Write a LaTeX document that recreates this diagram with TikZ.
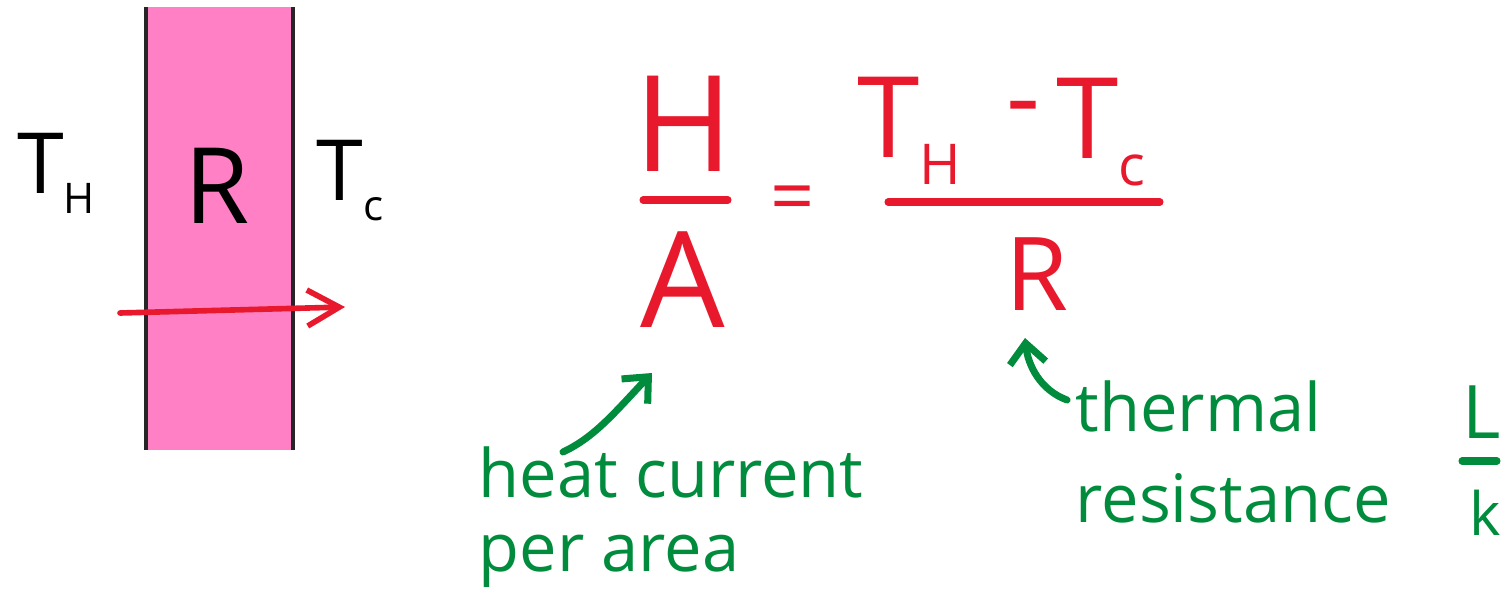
\documentclass[tikz,border=0pt]{standalone}
\usepackage{fontspec}
\setmainfont{Open Sans}
\usepackage{graphicx}
\usetikzlibrary{arrows.meta}
\definecolor{wallpink}{HTML}{FF80C4}
\definecolor{eqred}{HTML}{E8192C}
\definecolor{notegreen}{HTML}{008C3C}
\newcommand{\lowsub}[1]{\raisebox{-0.24em}{\scalebox{0.5}{#1}}}

\begin{document}
\begin{tikzpicture}[
    x=0.01cm, y=-0.01cm,
    sym/.style={inner sep=0pt, anchor=base},
    temp/.style={sym, font=\fontsize{24}{24}\selectfont},
    eqbig/.style={sym, text=eqred, font=\fontsize{38}{38}\selectfont},
    eqmid/.style={sym, text=eqred, font=\fontsize{32}{32}\selectfont},
    note/.style={inner sep=0pt, anchor=north west, align=left, text=notegreen},
    wallside/.style={draw=black!85, line width=1.2pt},
    bar/.style={line width=2pt, line cap=round},
    flow/.style={-{Straight Barb[length=3.2mm, width=3.6mm]}, eqred, line width=1.6pt, line cap=round},
    notearr/.style={-{Straight Barb[length=2mm, width=3.6mm]}, notegreen, line width=2pt, line cap=round}
]
    \useasboundingbox (0,0) rectangle (1511,600);

    % wall with heat flowing through
    \fill[wallpink] (146,7) rectangle (293,450);
    \draw[wallside] (146,7) -- (146,450);
    \draw[wallside] (293,7) -- (293,450);

    \node[temp] (hotside) at (56,193) {T\lowsub{H}};
    \node[sym, font=\fontsize{30}{30}\selectfont] (wallR) at (217,223) {R};
    \node[temp] (coldside) at (350,200) {T\lowsub{c}};

    \coordinate (flowin) at (120,313);
    \coordinate (flowout) at (345,307);
    \draw[flow] (flowin) -- (flowout);

    % H/A = (TH - Tc)/R
    \node[eqbig] (Hnum) at (684,172) {H};
    \draw[bar, eqred] (643,200) -- (728,200);
    \node[eqbig] (Aden) at (683,327) {A};
    \node[inner sep=0pt, text=eqred, font=\fontsize{22}{22}\selectfont] (equals) at (793,205) {=};

    \node[eqmid] (THnum) at (909,157) {T\lowsub{H}};
    \node[inner sep=0pt, text=eqred, font=\fontsize{30}{30}\selectfont] (minus) at (1023,117) {-};
    \node[eqmid] (TCnum) at (1101,158) {T\lowsub{c}};
    \draw[bar, eqred] (888,202) -- (1160,202);
    \node[sym, text=eqred, font=\fontsize{29}{29}\selectfont] (Rden) at (1037,310) {R};

    % notes
    \node[note, font=\fontsize{19}{21}\selectfont] (heat) at (478,446) {heat current\\per area};
    \node[note, font=\fontsize{19}{26}\selectfont] (thermal) at (1075,380) {thermal\\resistance};

    \coordinate (heatstart) at (563,452);
    \coordinate (heattip) at (652,373);
    \draw[notearr] (heatstart) .. controls (595,437) and (615,412) .. (heattip);

    \coordinate (thermstart) at (1067,400);
    \coordinate (thermtip) at (1025,338);
    \draw[notearr] (thermstart) .. controls (1040,390) and (1028,365) .. (thermtip);

    \node[sym, text=notegreen, font=\fontsize{21}{21}\selectfont] (Lnum) at (1482,438) {L};
    \draw[bar, notegreen] (1462,461) -- (1497,461);
    \node[sym, text=notegreen, font=\fontsize{17}{17}\selectfont] (kden) at (1485,535) {k};
\end{tikzpicture}
\end{document}
